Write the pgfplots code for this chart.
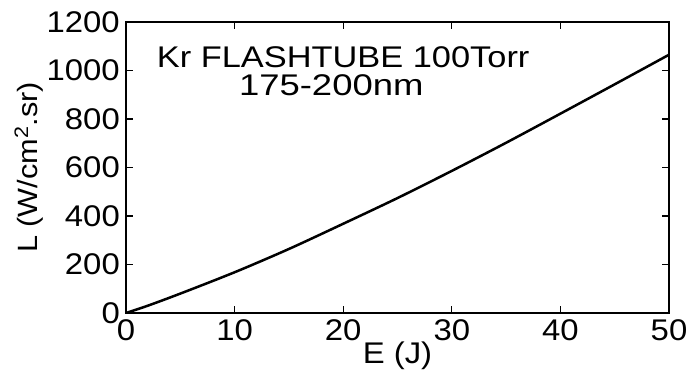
\documentclass[border=0pt]{standalone}
\usepackage{fontspec}
\setmainfont[FakeStretch=1.1]{Liberation Sans}
\newfontfamily\widefont[FakeStretch=1.22]{Liberation Sans}
\newfontfamily\medfont[FakeStretch=1.15]{Liberation Sans}
\usepackage{pgfplots}
\pgfplotsset{compat=1.18}
\begin{document}
\begin{tikzpicture}
\begin{axis}[
  scale only axis, width=543bp, height=291bp,
  xmin=0, xmax=50, ymin=0, ymax=1200,
  xtick={0,10,20,30,40,50}, ytick={0,200,400,600,800,1000,1200},
  tick align=inside, major tick length=7bp,
  tick style={line width=1.3bp, black},
  axis line style={line width=1.8bp},
  /pgf/number format/assume math mode=true,
  /pgf/number format/1000 sep={},
  tick label style={font=\fontsize{30}{30}\selectfont},
  xticklabel style={inner sep=0pt, anchor=north, yshift=-6bp},
  yticklabel style={inner sep=0pt, anchor=east, xshift=-6bp},
  xlabel={E (J)}, ylabel={L (W/cm\textsuperscript{2}.sr)},
  xlabel style={font=\fontsize{30}{30}\selectfont, inner sep=0pt, at={(axis description cs:0.5,0)}, anchor=north, yshift=-29bp},
  ylabel style={font=\fontsize{28}{28}\selectfont, inner sep=0pt, at={(axis description cs:0,0.5)}, anchor=south, yshift=83bp},
]
\addplot[black, line width=2.5bp, smooth] coordinates {
(0,0) (2,30) (5,80) (10,168) (15,264) (20,368) (25,474) (30,586) (35,702) (40,822) (45,943) (50,1065)
};
\node[font=\medfont\fontsize{30}{30}\selectfont, inner sep=0pt] at (axis cs:20.0,1054) {Kr FLASHTUBE 100Torr};
\node[font=\widefont\fontsize{30}{30}\selectfont, inner sep=0pt] at (axis cs:18.9,940) {175-200nm};
\end{axis}
\pgfresetboundingbox
\path (current axis.south west) ++(-126bp,-57bp) rectangle ([shift={(20bp,22bp)}]current axis.north east);
\end{tikzpicture}
\end{document}
